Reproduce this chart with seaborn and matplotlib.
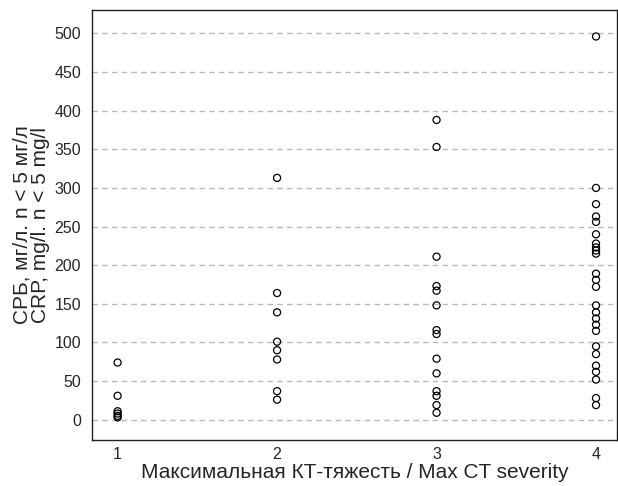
import numpy as np
import pandas as pd
import matplotlib
matplotlib.use('Agg')
import matplotlib.pyplot as plt
import seaborn as sns

# CRP values per max CT severity grade
severity_1 = [74, 31, 11, 8, 5, 3]
severity_2 = [313, 164, 139, 101, 90, 78, 37, 26]
severity_3 = [388, 353, 211, 173, 167, 148, 116, 111, 79, 60, 37, 31, 19, 9]
severity_4 = [496, 300, 279, 263, 256, 240, 228, 223, 219, 215, 189, 181, 172,
              148, 139, 131, 123, 115, 95, 85, 70, 62, 52, 28, 19]

y_ticks = [0, 50, 100, 150, 200, 250, 300, 350, 400, 450, 500]
x_ticks = [1, 2, 3, 4]

df = pd.DataFrame({
    'severity': [1] * len(severity_1) + [2] * len(severity_2)
                + [3] * len(severity_3) + [4] * len(severity_4),
    'crp': severity_1 + severity_2 + severity_3 + severity_4,
})

sns.set_style('white')
plt.rcParams['font.family'] = ['Liberation Sans', 'DejaVu Sans']

fig = plt.figure(figsize=(6.18, 4.86), dpi=100)
ax = fig.add_axes([0.149, 0.095, 0.849, 0.884])

# dashed horizontal grid at every tick
for y in y_ticks:
    ax.axhline(y, color='#b8b8b8', lw=1, ls=(0, (4, 3)), zorder=0)

sns.scatterplot(data=df, x='severity', y='crp', ax=ax, marker='o',
                facecolor='none', edgecolor='black', linewidth=0.9, s=26,
                legend=False, zorder=3)

ax.set_xlim(0.84, 4.13)
ax.set_ylim(-26, 530)
ax.set_xticks(x_ticks)
ax.set_yticks(y_ticks)
ax.tick_params(axis='x', direction='in', length=5, width=1, color='black',
               labelsize=11.5, pad=5)
ax.tick_params(axis='y', direction='out', length=5, width=1, color='black',
               labelsize=11.5, pad=3)
for s in ax.spines.values():
    s.set_color('#222222')
    s.set_linewidth(1)

ax.set_xlabel('Максимальная КТ-тяжесть / Max CT severity', fontsize=15, labelpad=1)
ax.set_ylabel('СРБ, мг/л. n < 5 мг/л\nCRP, mg/l. n < 5 mg/l', fontsize=15,
              labelpad=3, linespacing=0.95)

fig.savefig('out.png', dpi=100)
